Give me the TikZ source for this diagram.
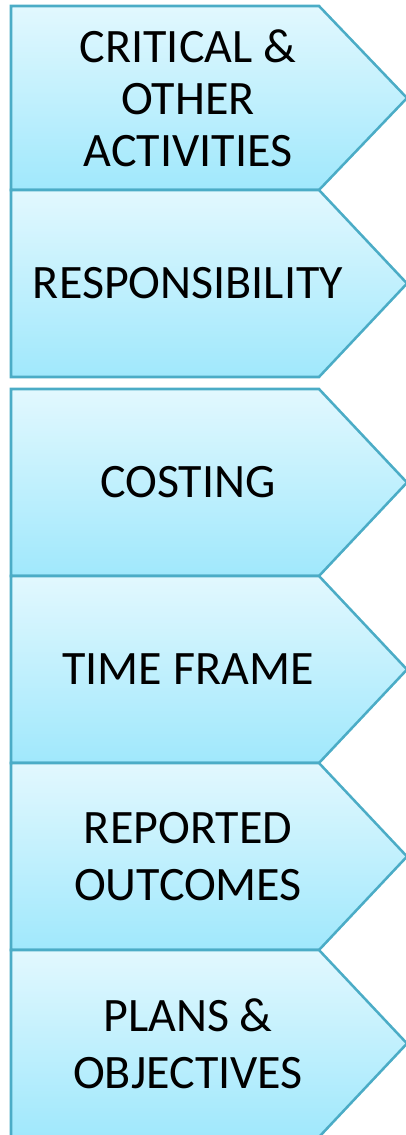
\documentclass[tikz,border=0pt]{standalone}
\usepackage{fontspec}
\setmainfont{Carlito}
\usetikzlibrary{positioning}

\definecolor{chevronline}{RGB}{75,172,198}
\definecolor{chevrontop}{RGB}{226,248,254}
\definecolor{chevronbottom}{RGB}{160,232,252}

\begin{document}
\begin{tikzpicture}[x=0.75pt,y=-0.75pt]
\tikzstyle{chevron} = [draw=chevronline, line width=1.9pt, top color=chevrontop, bottom color=chevronbottom, line join=miter]
\tikzstyle{stagetext} = [font=\fontsize{36}{39}\selectfont, align=center, text=black, inner sep=0pt]

% Page frame, the last chevron runs off the bottom
\useasboundingbox (0,0) rectangle (406,1135);
\clip (0,0) rectangle (406,1135);

% Stacked chevrons, top to bottom
\foreach \ya/\yb/\name/\txt in {6/190/critical/{CRITICAL \&\\OTHER\\ACTIVITIES},
                                190/377/responsibility/{RESPONSIBILITY},
                                389/576/costing/{COSTING},
                                576/763/timeframe/{TIME FRAME},
                                763/950/outcomes/{REPORTED\\[4pt]OUTCOMES},
                                950/1137/plans/{PLANS \&\\[4pt]OBJECTIVES}} {
  \path [chevron] (11,\ya) -- (319,\ya) -- (407,{(\ya+\yb)/2}) -- (319,\yb) -- (11,\yb) -- cycle;
  \node [stagetext] (\name) at (188,{(\ya+\yb)/2}) {\txt};
}

\end{tikzpicture}
\end{document}
